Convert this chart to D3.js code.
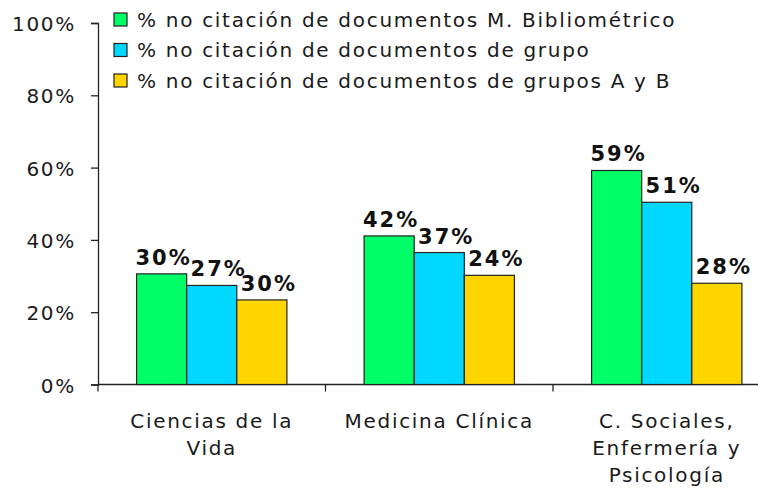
<!DOCTYPE html>
<html>
<head>
<meta charset="utf-8">
<script src="https://cdn.jsdelivr.net/npm/d3@7"></script>
<style>
  body { margin: 0; background: #fff; }
  svg { display: block; }
</style>
</head>
<body>
<svg id="chart" width="758" height="491"></svg>
<script>
// categories (multi-line labels)
const categories = ["Ciencias de la Vida", "Medicina Clínica", "C. Sociales, Enfermería y Psicología"];
const categoryLines = [["Ciencias de la", "Vida"], ["Medicina Clínica"], ["C. Sociales,", "Enfermería y", "Psicología"]];

const seriesNames = [
    "% no citación de documentos M. Bibliométrico",
    "% no citación de documentos de grupo",
    "% no citación de documentos de grupos A y B"
];
const seriesColors = ["#00ff66", "#00d8ff", "#ffd500"];

// bar heights as drawn (percent), one array per category
const cienciasVida = [30.6, 27.4, 23.4];
const medicinaClinica = [41.1, 36.5, 30.2];
const socialesEnfPsico = [59.2, 50.4, 28.0];
const barValues = [cienciasVida, medicinaClinica, socialesEnfPsico];

// data labels as printed on the chart
const barLabels = [["30%", "27%", "30%"], ["42%", "37%", "24%"], ["59%", "51%", "28%"]];

const yTicks = [0, 20, 40, 60, 80, 100];

const svg = d3.select("#chart");
const fontFamily = "'DejaVu Sans', Verdana, sans-serif";
const textSize = "20px";
const textSpacing = "1.7px";

const margin = { left: 98, top: 23, bottom: 384.5 };
const groupStep = 227.5;

const x0 = d3.scaleBand()
    .domain(categories)
    .range([margin.left, margin.left + groupStep * categories.length])
    .paddingInner(0)
    .paddingOuter(0);

const x1 = d3.scaleBand()
    .domain(d3.range(seriesNames.length))
    .range([0, x0.bandwidth()])
    .paddingInner(0)
    .paddingOuter(0.77);

const y = d3.scaleLinear()
    .domain([0, 100])
    .range([margin.bottom, margin.top]);

// y axis
const yAxis = d3.axisLeft(y)
    .tickValues(yTicks)
    .tickSize(7)
    .tickPadding(15)
    .tickFormat(d => d + "%");

const yg = svg.append("g")
    .attr("transform", `translate(${margin.left},0)`)
    .call(yAxis);
yg.select(".domain").attr("stroke", "#222").attr("stroke-width", 1.3);
yg.selectAll(".tick line").attr("stroke", "#222").attr("stroke-width", 1.3);
yg.selectAll(".tick text")
    .attr("fill", "#1a1a1a")
    .attr("dy", "0.38em")
    .style("font-family", fontFamily)
    .style("font-size", textSize)
    .style("letter-spacing", textSpacing);

// x axis line + group ticks
const xg = svg.append("g");
xg.append("line")
    .attr("x1", margin.left)
    .attr("x2", 758)
    .attr("y1", y(0))
    .attr("y2", y(0))
    .attr("stroke", "#222")
    .attr("stroke-width", 1.3);

xg.selectAll(".xtick")
    .data(categories)
    .join("line")
    .attr("class", "xtick")
    .attr("x1", d => x0(d))
    .attr("x2", d => x0(d))
    .attr("y1", y(0))
    .attr("y2", y(0) + 7)
    .attr("stroke", "#222")
    .attr("stroke-width", 1.3);

// category labels
categories.forEach((c, i) => {
    const cx = x0(c) + x0.bandwidth() / 2;
    const t = svg.append("text")
        .attr("x", cx)
        .attr("y", 428)
        .attr("text-anchor", "middle")
        .attr("fill", "#1a1a1a")
        .style("font-family", fontFamily)
        .style("font-size", textSize)
        .style("letter-spacing", textSpacing);
    categoryLines[i].forEach((line, j) => {
        t.append("tspan")
            .attr("x", cx)
            .attr("dy", j === 0 ? 0 : 27)
            .text(line);
    });
});

// bars
const groups = svg.selectAll(".group")
    .data(categories)
    .join("g")
    .attr("class", "group")
    .attr("transform", d => `translate(${x0(d)},0)`);

groups.selectAll("rect")
    .data((d, i) => barValues[i].map((v, s) => ({ v, s })))
    .join("rect")
    .attr("x", d => x1(d.s))
    .attr("y", d => y(d.v))
    .attr("width", x1.bandwidth())
    .attr("height", d => y(0) - y(d.v))
    .attr("fill", d => seriesColors[d.s])
    .attr("stroke", "#222")
    .attr("stroke-width", 1.2);

// value labels
groups.selectAll(".vlabel")
    .data((d, i) => barValues[i].map((v, s) => ({ v, s, label: barLabels[i][s] })))
    .join("text")
    .attr("class", "vlabel")
    .attr("x", d => x1(d.s) + x1.bandwidth() / 2 + (d.s === 0 ? 2 : 7))
    .attr("y", d => y(d.v) - 9)
    .attr("text-anchor", "middle")
    .attr("fill", "#111")
    .style("font-family", fontFamily)
    .style("font-weight", "bold")
    .style("font-size", "21px")
    .style("letter-spacing", "2px")
    .text(d => d.label);

// legend
const legend = svg.append("g").attr("transform", "translate(114,13)");
seriesNames.forEach((name, i) => {
    const row = legend.append("g").attr("transform", `translate(0,${i * 30.5})`);
    row.append("rect")
        .attr("width", 13)
        .attr("height", 13)
        .attr("fill", seriesColors[i])
        .attr("stroke", "#222")
        .attr("stroke-width", 1.2);
    row.append("text")
        .attr("x", 23)
        .attr("y", 13.5)
        .attr("fill", "#1a1a1a")
        .style("font-family", fontFamily)
        .style("font-size", textSize)
        .style("letter-spacing", textSpacing)
        .text(name);
});
</script>
</body>
</html>
